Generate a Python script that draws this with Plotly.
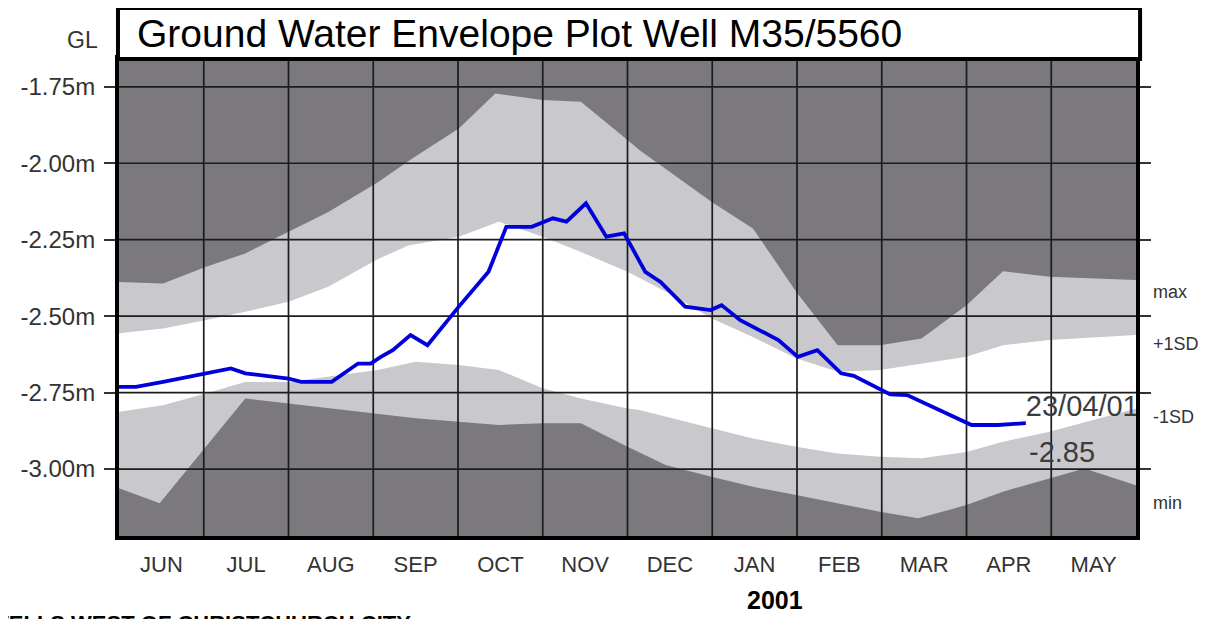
import plotly.graph_objects as go

# ---------------- data (x in months since 1 June, y in metres below GL) -------------
months = ["JUN", "JUL", "AUG", "SEP", "OCT", "NOV", "DEC", "JAN", "FEB", "MAR", "APR", "MAY"]
y_tick_vals = [-1.75, -2.00, -2.25, -2.50, -2.75, -3.00]
y_tick_text = ["-1.75m", "-2.00m", "-2.25m", "-2.50m", "-2.75m", "-3.00m"]
band_labels = ["max", "+1SD", "-1SD", "min"]

max_x = [0.0, 0.52, 1.02, 1.49, 2.0, 2.47, 3.05, 3.46, 4.01, 4.44, 5.0, 5.45, 6.0, 6.14,
         6.99, 7.48, 7.99, 8.48, 8.98, 9.47, 10.0, 10.43, 10.98, 12.0]
max_y = [-2.388, -2.393, -2.339, -2.295, -2.224, -2.159, -2.063, -1.984, -1.886, -1.772,
         -1.793, -1.799, -1.924, -1.957, -2.126, -2.213, -2.420, -2.595, -2.595, -2.573,
         -2.464, -2.353, -2.371, -2.382]

sd_hi_x = [0.0, 0.52, 1.02, 1.49, 2.0, 2.47, 3.05, 3.42, 4.01, 4.48, 5.0, 5.45, 6.0, 6.53,
           6.99, 7.48, 7.99, 8.48, 8.98, 9.24, 10.0, 10.43, 10.98, 12.0]
sd_hi_y = [-2.556, -2.540, -2.513, -2.486, -2.453, -2.404, -2.314, -2.268, -2.240, -2.191,
           -2.240, -2.290, -2.355, -2.431, -2.507, -2.568, -2.638, -2.682, -2.676, -2.665,
           -2.633, -2.595, -2.578, -2.562]

sd_lo_x = [0.0, 0.52, 1.02, 1.49, 2.0, 2.47, 3.05, 3.5, 4.01, 4.48, 5.0, 5.45, 6.0, 6.14,
           6.99, 7.48, 7.99, 8.48, 8.98, 9.47, 10.0, 10.43, 10.98, 12.0]
sd_lo_y = [-2.813, -2.791, -2.753, -2.715, -2.715, -2.698, -2.676, -2.649, -2.660, -2.676,
           -2.736, -2.769, -2.802, -2.807, -2.867, -2.900, -2.927, -2.949, -2.960, -2.965,
           -2.944, -2.911, -2.878, -2.802]

min_x = [0.0, 0.48, 1.49, 2.0, 2.47, 3.05, 3.5, 4.01, 4.48, 5.0, 5.45, 6.0, 6.45, 6.99,
         7.48, 7.99, 8.48, 8.98, 9.43, 10.0, 10.43, 10.98, 11.39, 12.0]
min_y = [-3.063, -3.112, -2.769, -2.785, -2.802, -2.818, -2.834, -2.845, -2.856, -2.850,
         -2.850, -2.927, -2.987, -3.025, -3.058, -3.085, -3.112, -3.140, -3.161, -3.118,
         -3.074, -3.031, -2.998, -3.053]

level_x = [0.0, 0.2, 0.52, 1.02, 1.32, 1.49, 2.0, 2.15, 2.51, 2.82, 2.97, 3.09, 3.23, 3.44,
           3.64, 4.01, 4.36, 4.57, 4.87, 5.12, 5.28, 5.51, 5.75, 5.96, 6.21, 6.39, 6.68,
           6.98, 7.11, 7.33, 7.78, 8.01, 8.24, 8.52, 8.67, 9.1, 9.3, 10.06, 10.37, 10.70]
level_y = [-2.731, -2.731, -2.715, -2.687, -2.671, -2.687, -2.704, -2.715, -2.715, -2.655,
           -2.655, -2.633, -2.611, -2.562, -2.595, -2.469, -2.355, -2.208, -2.208, -2.180,
           -2.191, -2.131, -2.240, -2.229, -2.355, -2.388, -2.469, -2.480, -2.464, -2.513,
           -2.578, -2.633, -2.611, -2.687, -2.695, -2.756, -2.758, -2.856, -2.856, -2.850]
last_date = "23/04/01"
year_label = "2001"

# ---------------- styling -------------
DARK = "#7b797d"
LIGHT = "#c9c8cc"
GRID = "#1c1c1c"
BLUE = "#0000dc"
FONT = "Arial, Liberation Sans, sans-serif"
y_range = [-3.219, -1.659]
x_range = [0, len(months)]

fig = go.Figure()
common = dict(mode="lines", hoverinfo="skip", showlegend=False)
fig.add_trace(go.Scatter(x=max_x, y=max_y, line=dict(width=0, color=LIGHT), **common))
fig.add_trace(go.Scatter(x=min_x, y=min_y, line=dict(width=0, color=LIGHT),
                         fill="tonexty", fillcolor=LIGHT, **common))
fig.add_trace(go.Scatter(x=sd_hi_x, y=sd_hi_y, line=dict(width=0, color="white"), **common))
fig.add_trace(go.Scatter(x=sd_lo_x, y=sd_lo_y, line=dict(width=0, color="white"),
                         fill="tonexty", fillcolor="white", **common))

# grid drawn above the bands but below the water level line
gx, gy = [], []
for k in range(1, len(months)):
    gx += [k, k, None]
    gy += [y_range[0], y_range[1], None]
for v in y_tick_vals:
    gx += [x_range[0], x_range[1], None]
    gy += [v, v, None]
fig.add_trace(go.Scatter(x=gx, y=gy, line=dict(width=1.7, color=GRID), **common))

fig.add_trace(go.Scatter(x=level_x, y=level_y, line=dict(width=3.8, color=BLUE), **common))

# date of the last reading (clipped by the plot area like the original)
fig.add_trace(go.Scatter(
    x=[level_x[-1]], y=[level_y[-1]], mode="text",
    text=[last_date], textposition="top right",
    textfont=dict(size=29, color="#3c3c3c", family=FONT),
    cliponaxis=True, hoverinfo="skip", showlegend=False))

# the page is shown with an 8px body margin, so the figure is 8px smaller than the window
fig.update_layout(
    width=1207, height=611,
    margin=dict(l=103, r=79, t=51, b=83),
    paper_bgcolor="white", plot_bgcolor=DARK,
    font=dict(family=FONT, color="#333333"),
    xaxis=dict(range=x_range, tickvals=[i + 0.5 for i in range(len(months))], ticktext=months,
               showgrid=False, zeroline=False, showline=True, linecolor="black", linewidth=4,
               mirror=True, ticks="", tickfont=dict(size=22, color="#333333"),
               ticklabelstandoff=6, fixedrange=True),
    yaxis=dict(range=y_range, tickvals=y_tick_vals, ticktext=y_tick_text,
               showgrid=False, zeroline=False, showline=True, linecolor="black", linewidth=4,
               mirror="ticks", ticks="outside", ticklen=11, tickwidth=1.5, tickcolor="#333333",
               tickfont=dict(size=24, color="#333333"), ticklabelstandoff=4, fixedrange=True),
    shapes=[dict(type="rect", xref="paper", yref="paper", x0=-0.001, x1=1.004, y0=1.0, y1=1.107,
                 line=dict(color="black", width=4), fillcolor="white", layer="above")],
)

ann = [
    dict(text="Ground Water Envelope Plot Well M35/5560", x=0.016, y=1.0545, xanchor="left",
         yanchor="middle", font=dict(size=39, color="black")),
    dict(text="GL", x=-0.0185, y=1.04, xanchor="right", yanchor="middle",
         font=dict(size=23, color="#333333")),
    dict(text=f"<b>{year_label}</b>", x=0.645, y=-0.135, xanchor="center", yanchor="middle",
         font=dict(size=25, color="black")),
    dict(text="<b>WELLS WEST OF CHRISTCHURCH CITY</b>", x=-0.131, y=-0.1844, xanchor="left",
         yanchor="middle", font=dict(size=22, color="black")),
]
for lab, py in zip(band_labels, [0.5105, 0.4025, 0.2505, 0.0692]):
    ann.append(dict(text=lab, x=1.0146, y=py, xanchor="left", yanchor="middle",
                    font=dict(size=18, color="#333333")))
for a in ann:
    a.update(xref="paper", yref="paper", showarrow=False)
# latest level value under the date
ann.append(dict(text=f"{level_y[-1]:.2f}", xref="x", yref="y", x=level_x[-1], y=level_y[-1],
                xanchor="left", yanchor="middle", xshift=1, yshift=-29, showarrow=False,
                font=dict(size=29, color="#3c3c3c")))
fig.update_layout(annotations=ann)

fig.write_html("out.html")
